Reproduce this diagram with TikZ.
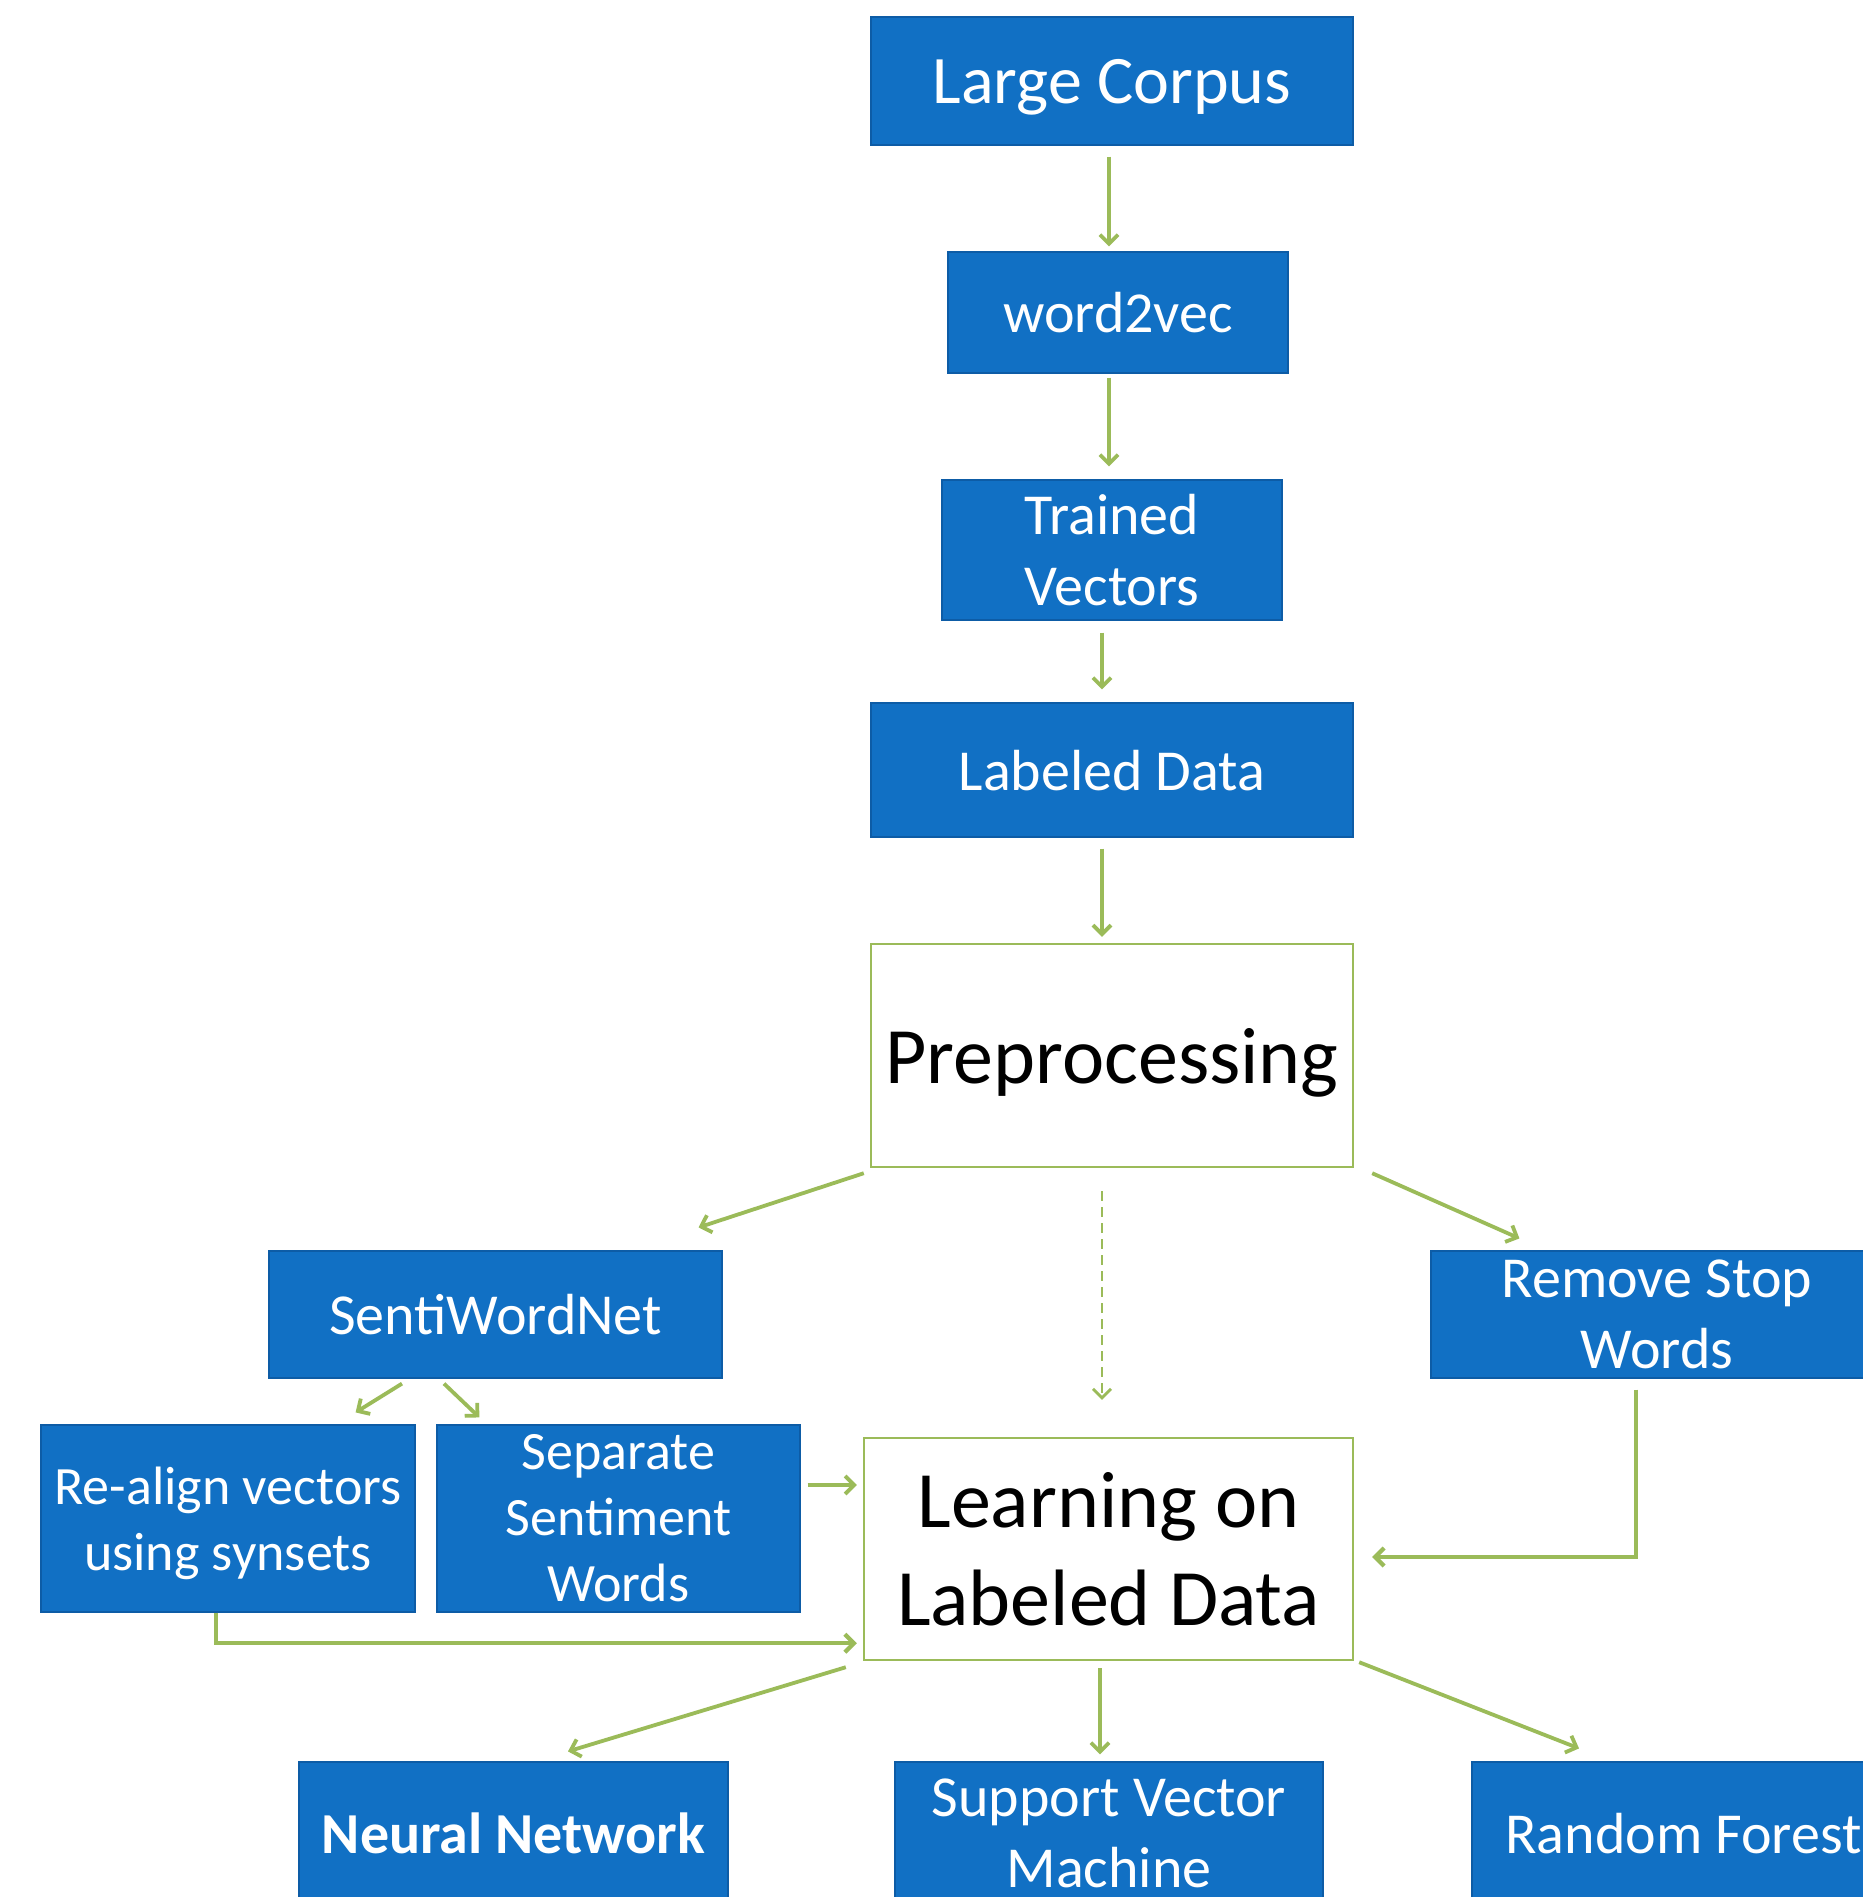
\documentclass[tikz,border=0pt]{standalone}
\usepackage{fontspec}
\setmainfont{Carlito}
\usetikzlibrary{arrows.meta,calc}
\definecolor{boxblue}{HTML}{1170C4}
\definecolor{boxedge}{HTML}{0D5CA6}
\definecolor{arrgreen}{HTML}{9BBB59}
\tikzset{
  bluebox/.style={draw=boxedge, fill=boxblue, text=white, align=center, inner sep=0pt, line width=0.6pt},
  whitebox/.style={draw=arrgreen, fill=white, text=black, align=center, inner sep=0pt, line width=1.2pt},
  oneline/.style={text depth=0pt},
  arr/.style={draw=arrgreen, line width=1.9pt, -{Straight Barb[length=4.5pt,width=9pt]}},
  elbow/.style={arr, line width=2.1pt},
  dsh/.style={arr, line width=1.4pt, dash pattern=on 5pt off 3pt},
  fbig/.style={font=\fontsize{34}{41.5}\selectfont},
  fmid/.style={font=\fontsize{29}{35.4}\selectfont},
  fsmall/.style={font=\fontsize{27}{33}\selectfont},
  fhuge/.style={font=\fontsize{40}{48.8}\selectfont},
}
\begin{document}
\begin{tikzpicture}[x=0.5pt, y=-0.5pt]
\useasboundingbox (0,0) rectangle (1863,1897);
\fill[white] (0,0) rectangle (1863,1897);
\clip (0,0) rectangle (1863,1897);

% nodes
\node[bluebox, fbig, oneline, minimum width=241pt, minimum height=64pt] (LC) at (1112,81) {Large Corpus};
\node[bluebox, fmid, oneline, minimum width=170pt, minimum height=60.5pt] (W2V) at (1118,312.5) {word2vec};
\node[bluebox, fmid, minimum width=170pt, minimum height=70pt] (TV) at (1112,550) {Trained\\Vectors};
\node[bluebox, fmid, oneline, minimum width=241pt, minimum height=67pt] (LD) at (1112,770) {Labeled Data};
\node[whitebox, fhuge, oneline, minimum width=241pt, minimum height=111.5pt] (PRE) at (1112,1055.5) {Preprocessing};
\node[bluebox, fmid, oneline, minimum width=226.5pt, minimum height=63.5pt] (SWN) at (495.5,1314.5) {SentiWordNet};
\node[bluebox, fsmall, text depth=0pt, minimum width=187pt, minimum height=93.5pt] (RA) at (228,1518.5) {Re-align vectors\\using synsets};
\node[bluebox, fsmall, minimum width=181.5pt, minimum height=93.5pt] (SEP) at (618.5,1518.5) {Separate\\Sentiment\\Words};
\node[whitebox, fhuge, minimum width=244.5pt, minimum height=111pt] (LRN) at (1108.5,1549) {Learning on\\Labeled Data};
\node[bluebox, fmid, minimum width=226pt, minimum height=63.5pt] (RSW) at (1657,1314.5) {Remove Stop\\Words};
\node[bluebox, oneline, font=\fontsize{29}{35.4}\selectfont\bfseries, minimum width=214.5pt, minimum height=71pt] (NN) at (513.5,1833) {Neural Network};
\node[bluebox, fmid, minimum width=214pt, minimum height=71pt] (SVM) at (1109,1833) {Support Vector\\Machine};
\node[bluebox, fmid, oneline, minimum width=211.5pt, minimum height=71pt] (RF) at (1683.5,1833) {Random Forest};

% connectors
\draw[arr] ($(LC.south)+(-3,11)$) -- ($(W2V.north)+(-9,-5)$);
\draw[arr] ($(W2V.south)+(-9,4)$) -- ($(TV.north)+(-3,-13)$);
\draw[arr] ($(TV.south)+(-10,12)$) -- ($(LD.north)+(-10,-13)$);
\draw[arr] ($(LD.south)+(-10,11)$) -- ($(PRE.north)+(-10,-6)$);
\draw[arr] ($(PRE.south west)+(-6,5)$) -- ($(SWN.north east)+(-24,-23)$);
\draw[arr] ($(PRE.south east)+(18,5)$) -- ($(RSW.north west)+(89,-12)$);
\draw[dsh] ($(PRE.south)+(-10,23)$) -- ($(LRN.north)+(-6.5,-37)$);
\draw[arr] ($(SWN.south)+(-93.5,5)$) -- ($(RA.north east)+(-60,-12)$);
\draw[arr] ($(SWN.south)+(-51.5,5)$) -- ($(SEP.north west)+(43,-7)$);
\draw[arr] ($(SEP.east)+(7,-33.5)$) -- ($(LRN.west)+(-6,-64)$);
\draw[elbow] ($(RA.south)+(-12,0)$) |- ($(LRN.south west)+(-6,-18)$);
\draw[elbow] ($(RSW.south)+(-21,11)$) |- ($(LRN.east)+(18,8)$);
\draw[arr] ($(LRN.south west)+(-17,6)$) -- ($(NN.north)+(54.5,-10)$);
\draw[arr] ($(LRN.south)+(-8.5,7)$) -- ($(SVM.north)+(-9,-7)$);
\draw[arr] ($(LRN.south east)+(5,1)$) -- ($(RF.north)+(-104.5,-13)$);
\end{tikzpicture}
\end{document}
